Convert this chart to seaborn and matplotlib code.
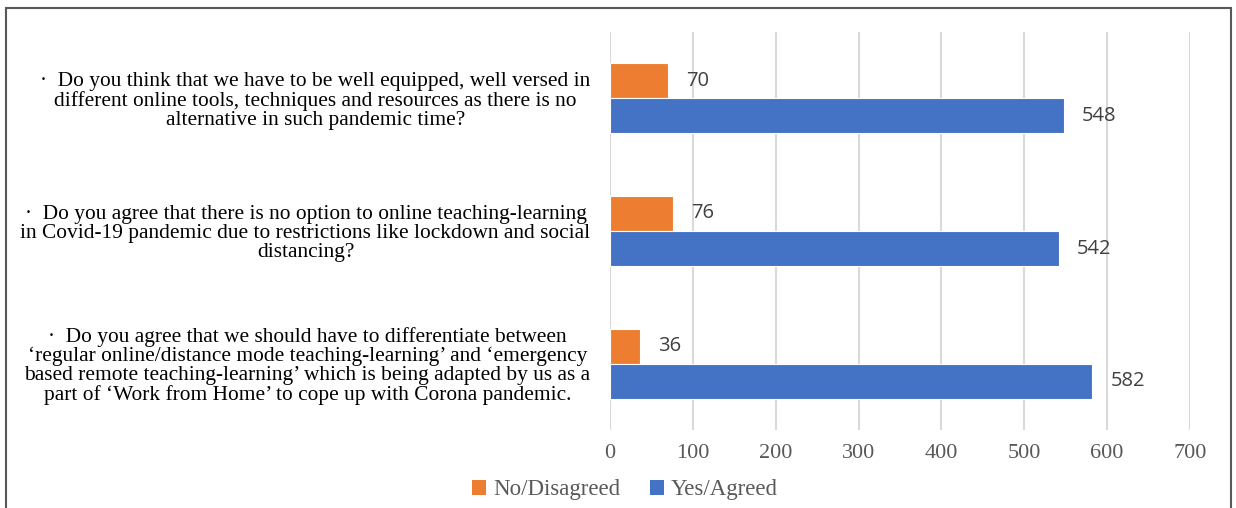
import matplotlib
matplotlib.use("Agg")
import matplotlib.pyplot as plt
from matplotlib.patches import Rectangle, Patch
import seaborn as sns
import pandas as pd

# Survey questions (one bar group each)
questions = [
    "·  Do you think that we have to be well equipped, well versed in\n"
    "different online tools, techniques and resources as there is no\n"
    "alternative in such pandemic time?",
    "·  Do you agree that there is no option to online teaching-learning\n"
    "in Covid-19 pandemic due to restrictions like lockdown and social\n"
    "distancing?",
    "·  Do you agree that we should have to differentiate between\n"
    "‘regular online/distance mode teaching-learning’ and ‘emergency\n"
    "based remote teaching-learning’ which is being adapted by us as a\n"
    "part of ‘Work from Home’ to cope up with Corona pandemic.",
]
series = ["No/Disagreed", "Yes/Agreed"]
no_counts = [70, 76, 36]
yes_counts = [548, 542, 582]
x_ticks = [0, 100, 200, 300, 400, 500, 600, 700]

colors = {"No/Disagreed": "#ED7D31", "Yes/Agreed": "#4472C4"}

df = pd.DataFrame({
    "question": questions * 2,
    "response": [series[0]] * 3 + [series[1]] * 3,
    "count": no_counts + yes_counts,
})

sns.set_theme(style="white")
plt.rcParams["font.family"] = ["Liberation Serif", "DejaVu Serif"]

W, H = 1236, 508
fig = plt.figure(figsize=(W / 100, H / 100), dpi=100)
ax = fig.add_axes([610 / W, 1 - 430 / H, 580 / W, (430 - 32) / H])

sns.barplot(
    data=df, y="question", x="count", hue="response",
    hue_order=series, order=questions, palette=colors, saturation=1,
    orient="h", width=0.53, edgecolor="white", linewidth=0.8,
    legend=False, ax=ax,
)

ax.set_xlim(0, 700)
ax.set_xticks(x_ticks)
ax.set_xticklabels([str(t) for t in x_ticks])
ax.set_xlabel("")
ax.set_ylabel("")
ax.grid(axis="x", color="#d9d9d9", linewidth=1.5)
ax.set_axisbelow(True)
for s in ax.spines.values():
    s.set_visible(False)
ax.tick_params(axis="x", length=0, pad=10, labelsize=16, labelcolor="#595959")
ax.tick_params(axis="y", length=0, pad=14, labelsize=15.4, labelcolor="black")
for lbl in ax.get_yticklabels():
    lbl.set_multialignment("center")
    lbl.set_linespacing(1.0)

for cont in ax.containers:
    ax.bar_label(cont, padding=13, fontsize=14.5, color="#404040",
                 family=["Open Sans", "DejaVu Sans"])

handles = [Patch(facecolor=colors[s], edgecolor="none", label=s) for s in series]
fig.legend(handles=handles, loc="center", bbox_to_anchor=(625 / W, 1 - 490 / H),
           ncol=2, frameon=False, fontsize=16.5, handlelength=0.6, handleheight=0.6,
           handletextpad=0.3, columnspacing=1.3, labelcolor="#595959")

# Outer frame around the chart area
fig.patches.append(Rectangle((6 / W, -0.05), (1231 - 6) / W, 1 - 8 / H + 0.05,
                             transform=fig.transFigure, fill=False,
                             edgecolor="#595959", linewidth=1.5))

fig.savefig("out.png", dpi=100)
